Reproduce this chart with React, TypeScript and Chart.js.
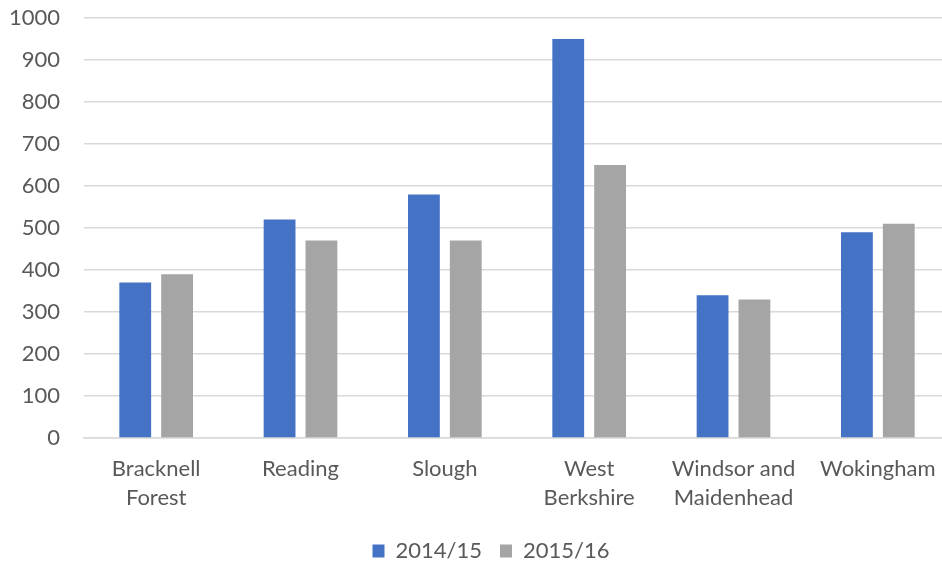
import React, { useEffect, useRef } from "react";
import { Chart, registerables } from "chart.js";

Chart.register(...registerables);

const categories: (string | string[])[] = [
  ["Bracknell", "Forest"],
  "Reading",
  "Slough",
  ["West", "Berkshire"],
  ["Windsor and", "Maidenhead"],
  "Wokingham",
];
const series2014 = [370, 520, 580, 950, 340, 490];
const series2015 = [390, 470, 470, 650, 330, 510];
const yTicks = [0, 100, 200, 300, 400, 500, 600, 700, 800, 900, 1000];

const FONT = "Lato, 'Open Sans', sans-serif";
const TEXT = "#595959";

const shiftLegend = {
  id: "shiftLegend",
  afterLayout(chart: any) {
    const l = chart.legend;
    if (l) {
      l.left += 16;
      l.right += 16;
    }
  },
};

export default function App() {
  const ref = useRef<HTMLCanvasElement | null>(null);
  useEffect(() => {
    if (!ref.current) return;
    const chart = new Chart(ref.current, {
      type: "bar",
      data: {
        labels: categories,
        datasets: [
          { label: "2014/15", data: series2014, backgroundColor: "#4472C4", categoryPercentage: 0.58, barPercentage: 0.76 },
          { label: "2015/16", data: series2015, backgroundColor: "#A5A5A5", categoryPercentage: 0.58, barPercentage: 0.76 },
        ],
      },
      plugins: [shiftLegend],
      options: {
        animation: false,
        responsive: false,
        maintainAspectRatio: false,
        layout: { padding: { top: 18, left: 0, right: 0, bottom: -11 } },
        plugins: {
          legend: {
            position: "bottom",
            labels: {
              color: TEXT,
              font: { family: FONT, size: 22 },
              boxWidth: 12,
              boxHeight: 13,
              padding: 18,
            },
          },
          tooltip: { enabled: false },
        },
        scales: {
          x: {
            grid: { display: false },
            border: { display: true, color: "#D9D9D9", width: 1.5 },
            ticks: { color: TEXT, font: { family: FONT, size: 22, lineHeight: 1.32 }, padding: 8, maxRotation: 0, autoSkip: false },
            afterFit: (s: any) => { s.height = 84; s.paddingLeft = 0; s.paddingRight = 0; },
          },
          y: {
            min: 0,
            max: 1000,
            afterBuildTicks: (s: any) => { s.ticks = yTicks.map((v) => ({ value: v })); },
            grid: { color: "#D9D9D9", lineWidth: 1.5, drawTicks: false },
            border: { display: false },
            ticks: { color: TEXT, font: { family: FONT, size: 22 }, padding: 24, callback: (v: any) => String(v) },
            afterFit: (s: any) => { s.width = 84; s.paddingTop = 0; s.paddingBottom = 0; },
          },
        },
      },
    });
    return () => chart.destroy();
  }, []);
  return (
    <div style={{ position: "fixed", left: 0, top: 0, width: 942, height: 561, overflow: "hidden", background: "#fff" }}>
      <canvas ref={ref} width={950} height={561} style={{ display: "block" }} />
    </div>
  );
}
